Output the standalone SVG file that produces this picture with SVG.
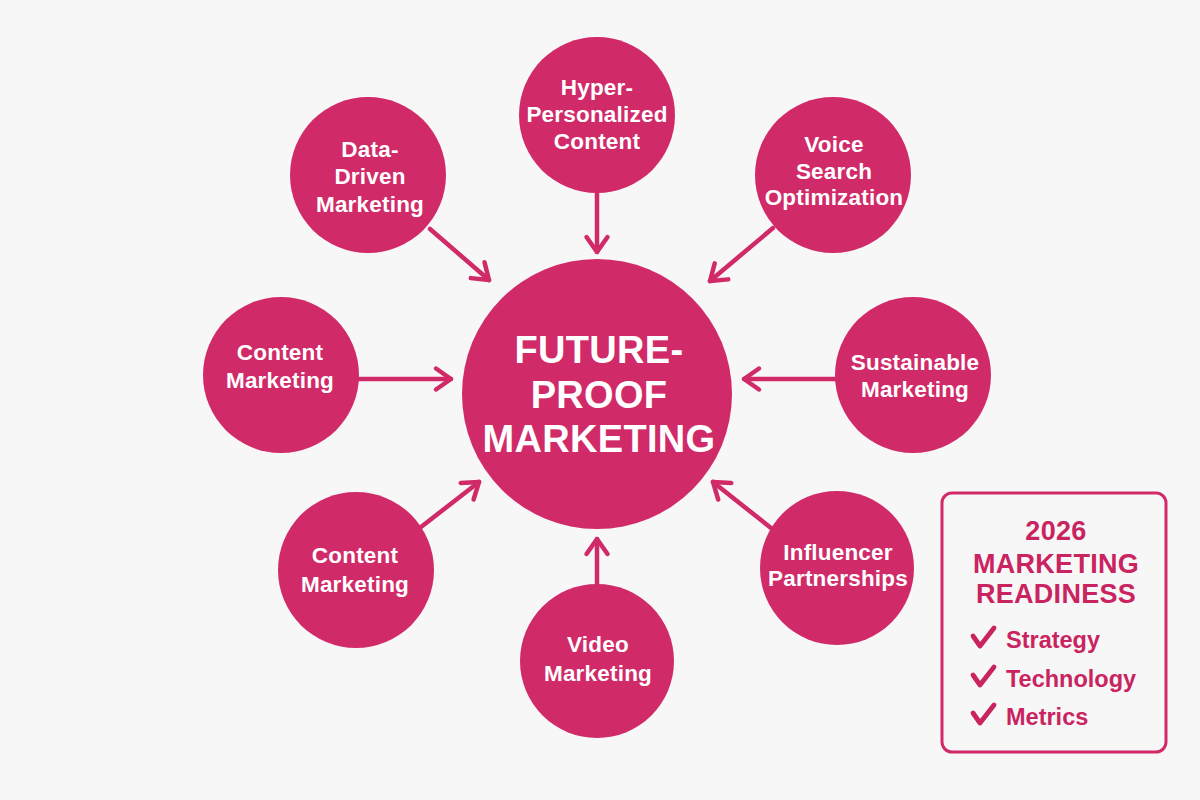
<svg xmlns="http://www.w3.org/2000/svg" width="1200" height="800" viewBox="0 0 1200 800">
  <defs>
    <style>
      .node { fill: #D12A69; }
      .lbl { font-family: "Liberation Sans", Arial, sans-serif; font-weight: bold; fill: #FFFFFF; font-size: 22.5px; text-anchor: middle; letter-spacing: 0.2px; }
      .center { font-size: 38px; letter-spacing: 0.3px; }
      .conn { stroke: #D12A69; stroke-width: 4.5; stroke-linecap: round; fill: none; marker-end: url(#chev); }
      .box { fill: none; stroke: #D12A69; stroke-width: 3; }
      .boxt { font-family: "Liberation Sans", Arial, sans-serif; font-weight: bold; fill: #C9245F; font-size: 27px; text-anchor: middle; letter-spacing: 0.3px; }
      .item { font-family: "Liberation Sans", Arial, sans-serif; font-weight: bold; fill: #C9245F; font-size: 23.5px; }
      .check { fill: none; stroke: #C9245F; stroke-width: 4.8; stroke-linecap: round; stroke-linejoin: round; }
    </style>
    <marker id="chev" viewBox="-20 -14 24 28" refX="0" refY="0" markerWidth="24" markerHeight="28" markerUnits="userSpaceOnUse" orient="auto">
      <path d="M -15 -10.5 L 0 0 L -15 10.5" fill="none" stroke="#D12A69" stroke-width="4.5" stroke-linecap="round" stroke-linejoin="round"/>
    </marker>
  </defs>
  <rect x="0" y="0" width="1200" height="800" fill="#F8F7F8"/>

  <g id="connectors">
    <line class="conn" x1="430" y1="229" x2="489" y2="280"/>
    <line class="conn" x1="597" y1="193" x2="597" y2="252"/>
    <line class="conn" x1="773" y1="228" x2="710" y2="281"/>
    <line class="conn" x1="358" y1="379" x2="451" y2="379"/>
    <line class="conn" x1="835" y1="379" x2="744" y2="379"/>
    <line class="conn" x1="421" y1="527" x2="479" y2="482"/>
    <line class="conn" x1="597" y1="585" x2="597" y2="539"/>
    <line class="conn" x1="771" y1="528" x2="713" y2="482"/>
  </g>

  <g id="center-node">
    <circle class="node" cx="597" cy="394" r="135"/>
    <text class="lbl center" x="599" y="363">FUTURE-</text>
    <text class="lbl center" x="599" y="408">PROOF</text>
    <text class="lbl center" x="599" y="452">MARKETING</text>
  </g>

  <g id="node-data-driven">
    <circle class="node" cx="368" cy="175" r="78"/>
    <text class="lbl" x="370" y="157">Data-</text>
    <text class="lbl" x="370" y="184">Driven</text>
    <text class="lbl" x="370" y="212">Marketing</text>
  </g>

  <g id="node-hyper">
    <circle class="node" cx="597" cy="115" r="78"/>
    <text class="lbl" x="597" y="95">Hyper-</text>
    <text class="lbl" x="597" y="122">Personalized</text>
    <text class="lbl" x="597" y="149">Content</text>
  </g>

  <g id="node-voice">
    <circle class="node" cx="833" cy="175" r="78"/>
    <text class="lbl" x="834" y="152">Voice</text>
    <text class="lbl" x="834" y="179">Search</text>
    <text class="lbl" x="834" y="205">Optimization</text>
  </g>

  <g id="node-content-left">
    <circle class="node" cx="281" cy="375" r="78"/>
    <text class="lbl" x="280" y="360">Content</text>
    <text class="lbl" x="280" y="388">Marketing</text>
  </g>

  <g id="node-sustainable">
    <circle class="node" cx="913" cy="375" r="78"/>
    <text class="lbl" x="915" y="370">Sustainable</text>
    <text class="lbl" x="915" y="397">Marketing</text>
  </g>

  <g id="node-content-lower">
    <circle class="node" cx="356" cy="570" r="78"/>
    <text class="lbl" x="355" y="563">Content</text>
    <text class="lbl" x="355" y="592">Marketing</text>
  </g>

  <g id="node-video">
    <circle class="node" cx="597" cy="661" r="77"/>
    <text class="lbl" x="598" y="652">Video</text>
    <text class="lbl" x="598" y="681">Marketing</text>
  </g>

  <g id="node-influencer">
    <circle class="node" cx="837" cy="568" r="77"/>
    <text class="lbl" x="838" y="560">Influencer</text>
    <text class="lbl" x="838" y="586">Partnerships</text>
  </g>

  <g id="readiness-box">
    <rect class="box" x="942" y="493" width="224" height="259" rx="10" ry="10"/>
    <text class="boxt" x="1056" y="540">2026</text>
    <text class="boxt" x="1056" y="573">MARKETING</text>
    <text class="boxt" x="1056" y="603">READINESS</text>
    <path class="check" d="M 973 636 L 980 646 L 994 628"/>
    <text class="item" x="1006" y="648">Strategy</text>
    <path class="check" d="M 973 675 L 980 685 L 994 667"/>
    <text class="item" x="1006" y="687">Technology</text>
    <path class="check" d="M 973 713 L 980 723 L 994 705"/>
    <text class="item" x="1006" y="725">Metrics</text>
  </g>
</svg>
